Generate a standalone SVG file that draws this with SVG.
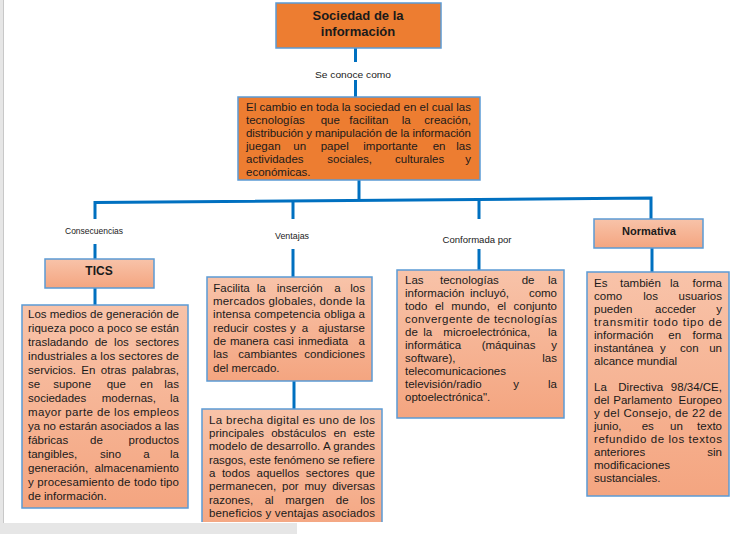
<svg xmlns="http://www.w3.org/2000/svg" width="750" height="534" viewBox="0 0 750 534">
<defs>
<linearGradient id="sal" x1="0" y1="0" x2="0" y2="1">
<stop offset="0" stop-color="#F8C3A9"/>
<stop offset="1" stop-color="#F4A580"/>
</linearGradient>
<clipPath id="page"><rect x="0" y="0" width="750" height="522"/></clipPath>
</defs>
<style>
.or{fill:#ED7D31;stroke:#5B9BD5;stroke-width:1.5}
.sb{fill:url(#sal);stroke:#5B9BD5;stroke-width:1.5}
.t{font-family:"Liberation Sans",Arial,sans-serif;font-size:11.5px;fill:#1a1a1a}
.e{text-anchor:end}
.b{font-family:"Liberation Sans",Arial,sans-serif;font-weight:bold;fill:#1a1a1a;text-anchor:middle}
.lb{font-family:"Liberation Sans",Arial,sans-serif;font-size:8.6px;fill:#1a1a1a;text-anchor:middle}
.c{fill:none;stroke:#0070C0;stroke-width:3}
</style>
<rect x="0" y="0" width="750" height="534" fill="#ffffff"/>
<rect x="0" y="0" width="3" height="523" fill="#E6E6E6"/>
<line x1="3.5" y1="0" x2="3.5" y2="523" stroke="#C8C8C8" stroke-width="1"/>
<rect x="0" y="523" width="297" height="11" fill="#E6E6E6"/>

<g id="connectors">
<path class="c" d="M355.5,48 V62 M355.5,80 V97"/>
<path class="c" d="M359,180 V200.5"/>
<path class="c" d="M95,219 V202.5 L651,198 V219"/>
<path class="c" d="M293,201 V219 M293,249 V277"/>
<path class="c" d="M479,199.5 V219 M479,249 V270"/>
<path class="c" d="M95,244 V259 M95,288 V305"/>
<path class="c" d="M652,248 V272"/>
<path class="c" d="M294,381 V409"/>
<text class="lb" x="353" y="78" font-size="10" textLength="76" lengthAdjust="spacingAndGlyphs">Se conoce como</text>
<text class="lb" x="94" y="234" textLength="58" lengthAdjust="spacingAndGlyphs">Consecuencias</text>
<text class="lb" x="292" y="239" textLength="34" lengthAdjust="spacingAndGlyphs">Ventajas</text>
<text class="lb" x="477" y="243" textLength="69" lengthAdjust="spacingAndGlyphs">Conformada  por</text>
</g>

<g id="title">
<rect class="or" x="276" y="3" width="165" height="45"/>
<text class="b" x="358" y="20" font-size="13">Sociedad de la</text>
<text class="b" x="358" y="36" font-size="13">información</text>
</g>

<g id="central">
<rect class="or" x="238" y="97" width="242" height="83"/>
<text class="t" x="246" y="111" textLength="225" lengthAdjust="spacing">El cambio en toda la sociedad en el cual las</text>
<text class="t" y="124"><tspan x="246">tecnologías</tspan><tspan x="320.7">que</tspan><tspan x="349.3">facilitan</tspan><tspan x="401.7">la</tspan></text>
<text class="t e" x="471" y="124">creación,</text>
<text class="t" x="246" y="137" textLength="225" lengthAdjust="spacing">distribución y manipulación de la información</text>
<text class="t" y="150"><tspan x="246">juegan</tspan><tspan x="293.3">un</tspan><tspan x="320.7">papel</tspan><tspan x="363.3">importante</tspan><tspan x="432.7">en</tspan></text>
<text class="t e" x="471" y="150">las</text>
<text class="t" y="163"><tspan x="246">actividades</tspan><tspan x="327.3">sociales,</tspan><tspan x="395">culturales</tspan></text>
<text class="t e" x="471" y="163">y</text>
<text class="t" x="246" y="176">económicas.</text>
</g>

<g id="tics">
<rect class="sb" x="45" y="259" width="109" height="29"/>
<text class="b" x="99" y="275" font-size="12">TICS</text>
</g>

<g id="consecuencias">
<rect class="sb" x="22" y="305" width="166" height="203"/>
<text class="t" x="28" y="318" textLength="151" lengthAdjust="spacing">Los medios de generación de</text>
<text class="t" x="28" y="332" textLength="151" lengthAdjust="spacing">riqueza poco a poco se están</text>
<text class="t" y="346"><tspan x="28">trasladando</tspan><tspan x="94.7">de</tspan><tspan x="114.1">los</tspan></text>
<text class="t e" x="179" y="346">sectores</text>
<text class="t" x="28" y="360" textLength="151" lengthAdjust="spacing">industriales a los sectores de</text>
<text class="t" y="374"><tspan x="28">servicios.</tspan><tspan x="81.3">En</tspan><tspan x="100.8">otras</tspan></text>
<text class="t e" x="179" y="374">palabras,</text>
<text class="t" y="388"><tspan x="28">se</tspan><tspan x="53.3">supone</tspan><tspan x="106.7">que</tspan><tspan x="140">en</tspan></text>
<text class="t e" x="179" y="388">las</text>
<text class="t" y="402"><tspan x="28">sociedades</tspan><tspan x="101.7">modernas,</tspan></text>
<text class="t e" x="179" y="402">la</text>
<text class="t" x="28" y="416" textLength="151" lengthAdjust="spacing">mayor parte de los empleos</text>
<text class="t" x="28" y="430" textLength="151" lengthAdjust="spacing">ya no estarán asociados a las</text>
<text class="t" y="444"><tspan x="28">fábricas</tspan><tspan x="90">de</tspan></text>
<text class="t e" x="179" y="444">productos</text>
<text class="t" y="458"><tspan x="28">tangibles,</tspan><tspan x="100">sino</tspan><tspan x="143.3">a</tspan></text>
<text class="t e" x="179" y="458">la</text>
<text class="t" x="28" y="472">generación,</text>
<text class="t e" x="179" y="472">almacenamiento</text>
<text class="t" x="28" y="486" textLength="151" lengthAdjust="spacing">y procesamiento de todo tipo</text>
<text class="t" x="28" y="500">de información.</text>
</g>

<g id="ventajas1">
<rect class="sb" x="207" y="277" width="165" height="104"/>
<text class="t" y="291.5"><tspan x="213.3">Facilita</tspan><tspan x="256.7">la</tspan><tspan x="276.7">inserción</tspan><tspan x="334.3">a</tspan></text>
<text class="t e" x="365" y="291.5">los</text>
<text class="t" x="213" y="305" textLength="152" lengthAdjust="spacing">mercados globales, donde la</text>
<text class="t" x="213" y="318" textLength="152" lengthAdjust="spacing">intensa competencia obliga a</text>
<text class="t" y="331.5"><tspan x="213.3">reducir</tspan><tspan x="253.3">costes</tspan><tspan x="290">y</tspan><tspan x="301.7">a</tspan></text>
<text class="t e" x="365" y="331.5">ajustarse</text>
<text class="t" y="345"><tspan x="213.3">de</tspan><tspan x="230">manera</tspan><tspan x="273.3">casi</tspan><tspan x="298.3">inmediata</tspan></text>
<text class="t e" x="365" y="345">a</text>
<text class="t" y="358"><tspan x="213.3">las</tspan><tspan x="238.3">cambiantes</tspan></text>
<text class="t e" x="365" y="358">condiciones</text>
<text class="t" x="213" y="371.5">del mercado.</text>
</g>

<g id="ventajas2" clip-path="url(#page)">
<rect class="sb" x="202" y="409" width="180" height="125"/>
<text class="t" x="209" y="423.5" textLength="166" lengthAdjust="spacing">La brecha digital es uno de los</text>
<text class="t" y="437"><tspan x="209">principales</tspan><tspan x="271.2">obstáculos</tspan><tspan x="333.4">en</tspan></text>
<text class="t e" x="375" y="437">este</text>
<text class="t" x="209" y="450" textLength="166" lengthAdjust="spacing">modelo de desarrollo. A grandes</text>
<text class="t" x="209" y="463.5" textLength="166" lengthAdjust="spacing">rasgos, este fenómeno se refiere</text>
<text class="t" y="477"><tspan x="209">a</tspan><tspan x="221.9">todos</tspan><tspan x="256.5">aquellos</tspan><tspan x="305.8">sectores</tspan></text>
<text class="t e" x="375" y="477">que</text>
<text class="t" y="490"><tspan x="209">permanecen,</tspan><tspan x="282">por</tspan><tspan x="304.5">muy</tspan></text>
<text class="t e" x="375" y="490">diversas</text>
<text class="t" y="503.5"><tspan x="209">razones,</tspan><tspan x="264.7">al</tspan><tspan x="285.2">margen</tspan><tspan x="335.8">de</tspan></text>
<text class="t e" x="375" y="503.5">los</text>
<text class="t" x="209" y="517" textLength="166" lengthAdjust="spacing">beneficios y ventajas asociados</text>
<text class="t" x="209" y="529.5">a las TIC.</text>
</g>

<g id="conformada">
<rect class="sb" x="397" y="270" width="167" height="148"/>
<text class="t" y="284"><tspan x="405">Las</tspan><tspan x="440">tecnologías</tspan><tspan x="521.7">de</tspan></text>
<text class="t e" x="557" y="284">la</text>
<text class="t" y="297"><tspan x="405">información</tspan><tspan x="470">incluyó,</tspan></text>
<text class="t e" x="557" y="297">como</text>
<text class="t" y="310"><tspan x="405">todo</tspan><tspan x="434.9">el</tspan><tspan x="451.3">mundo,</tspan><tspan x="497.2">el</tspan></text>
<text class="t e" x="557" y="310">conjunto</text>
<text class="t" x="405" y="323" textLength="152" lengthAdjust="spacing">convergente de tecnologías</text>
<text class="t" y="336"><tspan x="405">de</tspan><tspan x="423.3">la</tspan><tspan x="443.3">microelectrónica,</tspan></text>
<text class="t e" x="557" y="336">la</text>
<text class="t" y="349"><tspan x="405">informática</tspan><tspan x="481.7">(máquinas</tspan></text>
<text class="t e" x="557" y="349">y</text>
<text class="t" x="405" y="362">software),</text>
<text class="t e" x="557" y="362">las</text>
<text class="t" x="405" y="375">telecomunicaciones</text>
<text class="t" y="388"><tspan x="405">televisión/radio</tspan><tspan x="513.3">y</tspan></text>
<text class="t e" x="557" y="388">la</text>
<text class="t" x="405" y="401">optoelectrónica".</text>
</g>

<g id="normativa">
<rect class="sb" x="594" y="219" width="109" height="29"/>
<text class="b" x="649" y="235" font-size="11">Normativa</text>
</g>

<g id="normativa-text">
<rect class="sb" x="587" y="272" width="142" height="224"/>
<text class="t" y="287"><tspan x="594">Es</tspan><tspan x="620">también</tspan><tspan x="670">la</tspan></text>
<text class="t e" x="722" y="287">forma</text>
<text class="t" y="300"><tspan x="594">como</tspan><tspan x="643.3">los</tspan></text>
<text class="t e" x="722" y="300">usuarios</text>
<text class="t" y="313"><tspan x="594">pueden</tspan><tspan x="655">acceder</tspan></text>
<text class="t e" x="722" y="313">y</text>
<text class="t" x="594" y="326" textLength="128" lengthAdjust="spacing">transmitir todo tipo de</text>
<text class="t" y="339"><tspan x="594">información</tspan><tspan x="668.3">en</tspan></text>
<text class="t e" x="722" y="339">forma</text>
<text class="t" y="352"><tspan x="594">instantánea</tspan><tspan x="660">y</tspan><tspan x="680">con</tspan></text>
<text class="t e" x="722" y="352">un</text>
<text class="t" x="594" y="365">alcance mundial</text>
<text class="t" y="391"><tspan x="594">La</tspan><tspan x="618.3">Directiva</tspan></text>
<text class="t e" x="722" y="391">98/34/CE,</text>
<text class="t" y="404"><tspan x="594">del</tspan><tspan x="613.3">Parlamento</tspan></text>
<text class="t e" x="722" y="404">Europeo</text>
<text class="t" x="594" y="417" textLength="128" lengthAdjust="spacing">y del Consejo, de 22 de</text>
<text class="t" y="430"><tspan x="594">junio,</tspan><tspan x="641.7">es</tspan><tspan x="670">un</tspan></text>
<text class="t e" x="722" y="430">texto</text>
<text class="t" x="594" y="443" textLength="128" lengthAdjust="spacing">refundido de los textos</text>
<text class="t" x="594" y="456">anteriores</text>
<text class="t e" x="722" y="456">sin</text>
<text class="t" x="594" y="469">modificaciones</text>
<text class="t" x="594" y="482">sustanciales.</text>
</g>
</svg>
